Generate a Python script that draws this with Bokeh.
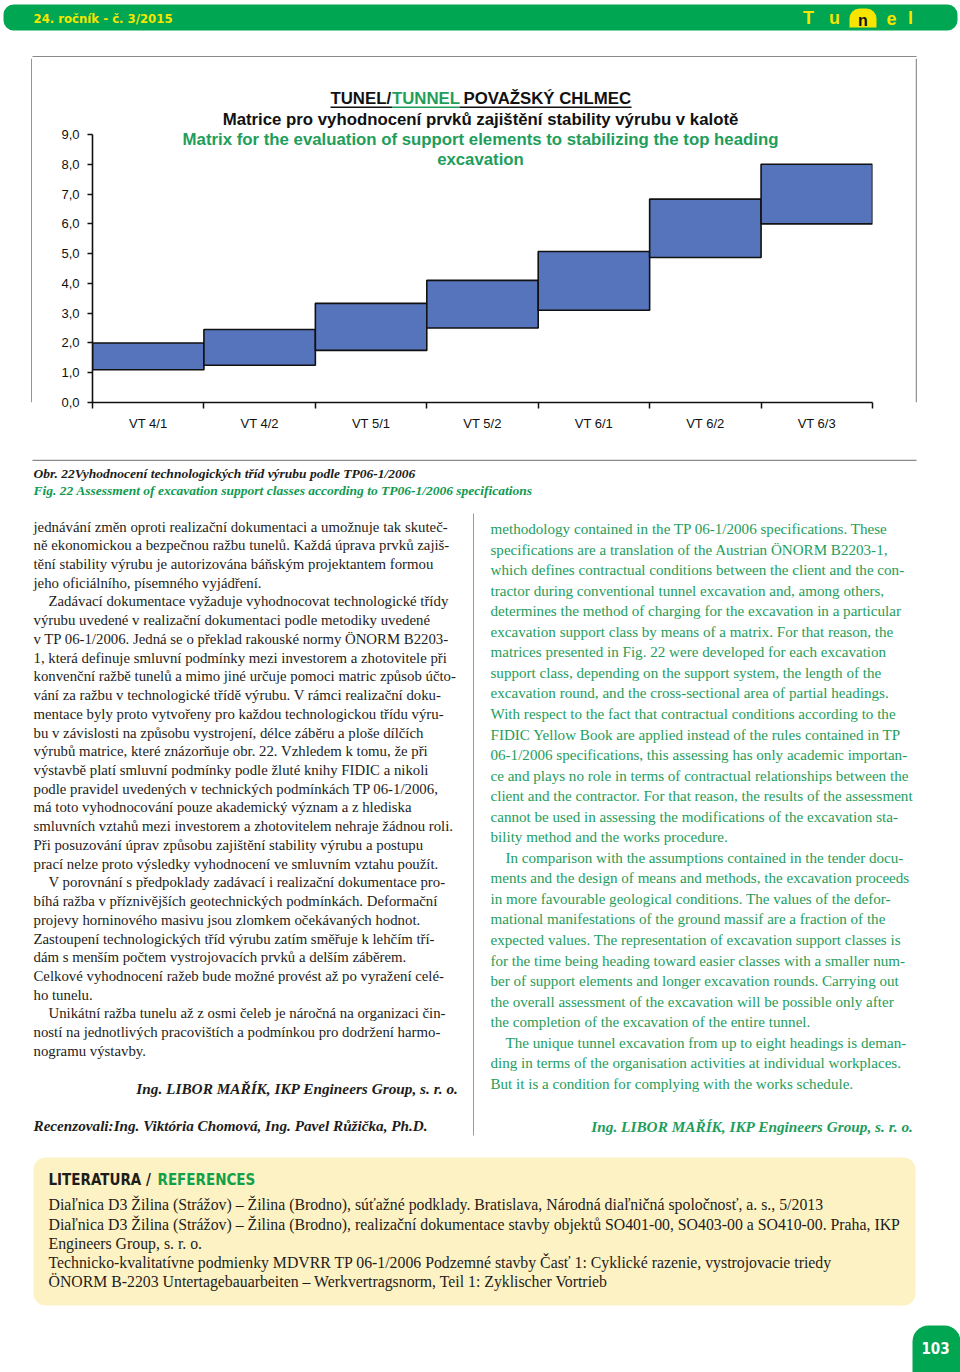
from bokeh.plotting import figure
from bokeh.models import (Range1d, FixedTicker, CustomJSTickFormatter, LinearAxis, ColumnDataSource)
from bokeh.layouts import column, row
from bokeh.core.properties import value
from bokeh.embed import file_html
from bokeh.resources import INLINE

# ---------------- data ----------------
categories = ["VT 4/1", "VT 4/2", "VT 5/1", "VT 5/2", "VT 6/1", "VT 6/2", "VT 6/3"]
low_values = [1.1, 1.25, 1.75, 2.5, 3.1, 4.87, 6.0]
high_values = [2.0, 2.45, 3.33, 4.1, 5.07, 6.83, 8.0]
y_ticks = [0, 1, 2, 3, 4, 5, 6, 7, 8, 9]
y_tick_labels = ["0,0", "1,0", "2,0", "3,0", "4,0", "5,0", "6,0", "7,0", "8,0", "9,0"]

title_line1 = ["TUNEL/", "TUNNEL", "POVAŽSKÝ CHLMEC"]
title_line2 = "Matrice pro vyhodnocení prvků zajištění stability výrubu v kalotě"
title_line3 = "Matrix for the evaluation of support elements to stabilizing the top heading"
title_line4 = "excavation"

caption_cz = "Obr. 22Vyhodnocení technologických tříd výrubu podle TP06-1/2006"
caption_en = "Fig. 22 Assessment of excavation support classes according to TP06-1/2006 specifications"

left_lines = [
    "jednávání změn oproti realizační dokumentaci a umožnuje tak skuteč-",
    "ně ekonomickou a bezpečnou ražbu tunelů. Každá úprava prvků zajiš-",
    "tění stability výrubu je autorizována báňským projektantem formou",
    "jeho oficiálního, písemného vyjádření.",
    "Zadávací dokumentace vyžaduje vyhodnocovat technologické třídy",
    "výrubu uvedené v realizační dokumentaci podle metodiky uvedené",
    "v TP 06-1/2006. Jedná se o překlad rakouské normy ÖNORM B2203-",
    "1, která definuje smluvní podmínky mezi investorem a zhotovitele při",
    "konvenční ražbě tunelů a mimo jiné určuje pomoci matric způsob účto-",
    "vání za ražbu v technologické třídě výrubu. V rámci realizační doku-",
    "mentace byly proto vytvořeny pro každou technologickou třídu výru-",
    "bu v závislosti na způsobu vystrojení, délce záběru a ploše dílčích",
    "výrubů matrice, které znázorňuje obr. 22. Vzhledem k tomu, že při",
    "výstavbě platí smluvní podmínky podle žluté knihy FIDIC a nikoli",
    "podle pravidel uvedených v technických podmínkách TP 06-1/2006,",
    "má toto vyhodnocování pouze akademický význam a z hlediska",
    "smluvních vztahů mezi investorem a zhotovitelem nehraje žádnou roli.",
    "Při posuzování úprav způsobu zajištění stability výrubu a postupu",
    "prací nelze proto výsledky vyhodnocení ve smluvním vztahu použít.",
    "V porovnání s předpoklady zadávací i realizační dokumentace pro-",
    "bíhá ražba v příznivějších geotechnických podmínkách. Deformační",
    "projevy horninového masivu jsou zlomkem očekávaných hodnot.",
    "Zastoupení technologických tříd výrubu zatím směřuje k lehčím tří-",
    "dám s menším počtem vystrojovacích prvků a delším záběrem.",
    "Celkové vyhodnocení ražeb bude možné provést až po vyražení celé-",
    "ho tunelu.",
    "Unikátní ražba tunelu až z osmi čeleb je náročná na organizaci čin-",
    "ností na jednotlivých pracovištích a podmínkou pro dodržení harmo-",
    "nogramu výstavby.",
]
left_indent = [4, 19, 26]

right_lines = [
    "methodology contained in the TP 06-1/2006 specifications. These",
    "specifications are a translation of the Austrian ÖNORM B2203-1,",
    "which defines contractual conditions between the client and the con-",
    "tractor during conventional tunnel excavation and, among others,",
    "determines the method of charging for the excavation in a particular",
    "excavation support class by means of a matrix. For that reason, the",
    "matrices presented in Fig. 22 were developed for each excavation",
    "support class, depending on the support system, the length of the",
    "excavation round, and the cross-sectional area of partial headings.",
    "With respect to the fact that contractual conditions according to the",
    "FIDIC Yellow Book are applied instead of the rules contained in TP",
    "06-1/2006 specifications, this assessing has only academic importan-",
    "ce and plays no role in terms of contractual relationships between the",
    "client and the contractor. For that reason, the results of the assessment",
    "cannot be used in assessing the modifications of the excavation sta-",
    "bility method and the works procedure.",
    "In comparison with the assumptions contained in the tender docu-",
    "ments and the design of means and methods, the excavation proceeds",
    "in more favourable geological conditions. The values of the defor-",
    "mational manifestations of the ground massif are a fraction of the",
    "expected values. The representation of excavation support classes is",
    "for the time being heading toward easier classes with a smaller num-",
    "ber of support elements and longer excavation rounds. Carrying out",
    "the overall assessment of the excavation will be possible only after",
    "the completion of the excavation of the entire tunnel.",
    "The unique tunnel excavation from up to eight headings is deman-",
    "ding in terms of the organisation activities at individual workplaces.",
    "But it is a condition for complying with the works schedule.",
]
right_indent = [16, 25]

author = "Ing. LIBOR MAŘÍK, IKP Engineers Group, s. r. o."
reviewers = "Recenzovali:Ing. Viktória Chomová, Ing. Pavel Růžička, Ph.D."

ref_title = ["LITERATURA /", "REFERENCES"]
ref_lines = [
    "Diaľnica D3 Žilina (Strážov) – Žilina (Brodno), súťažné podklady. Bratislava, Národná diaľničná spoločnosť, a. s., 5/2013",
    "Diaľnica D3 Žilina (Strážov) – Žilina (Brodno), realizační dokumentace stavby objektů SO401-00, SO403-00 a SO410-00. Praha, IKP",
    "Engineers Group, s. r. o.",
    "Technicko-kvalitatívne podmienky MDVRR TP 06-1/2006 Podzemné stavby Časť 1: Cyklické razenie, vystrojovacie triedy",
    "ÖNORM B-2203 Untertagebauarbeiten – Werkvertragsnorm, Teil 1: Zyklischer Vortrieb",
]
header_text = "24. ročník - č. 3/2015"
page_number = "103"

# ---------------- styles ----------------
GREEN_BAR = "#00a651"
YELLOW = "#f7e500"
GREEN_TXT = "#1f9d5c"
GREEN_TITLE = "#1e9e5a"
BLACK = "#1d1d1b"
BAR_FILL = "#5574bc"
BOX_GREY = "#8a8a8a"
SANS = "Liberation Sans"
SERIF = "Liberation Serif"
COND = "Liberation Sans Narrow, DejaVu Sans Condensed"

W = 960
# chart box on the page (pixels)
CH_LEFT, CH_TOP, CH_RIGHT, CH_BOTTOM = 32, 57, 915, 459
FRAME_L, FRAME_R, FRAME_T, FRAME_B = 92, 872, 58, 402


def blank(width, height, x0, x1, y_top, y_bottom):
    p = figure(width=width, height=height, x_range=Range1d(x0, x1), y_range=Range1d(y_bottom, y_top),
               output_backend="svg", toolbar_location=None, x_axis_type=None, y_axis_type=None,
               min_border=0, min_border_left=0, min_border_right=0, min_border_top=0, min_border_bottom=0)
    p.outline_line_color = None
    p.background_fill_color = "white"
    p.border_fill_color = "white"
    return p


def txt(p, x, y, s, size, color=BLACK, font=SERIF, style="normal", align="left"):
    p.text(x=[x], y=[y], text=[s], text_font=value(font), text_font_size=f"{size}px",
           text_font_style=style, text_color=color, text_align=align, text_baseline="middle")


def rquad(p, left, right, top, bottom, color, radius):
    try:
        p.quad(left=left, right=right, top=top, bottom=bottom, fill_color=color, line_color=None,
               border_radius=radius)
    except Exception:
        p.quad(left=left, right=right, top=top, bottom=bottom, fill_color=color, line_color=None)


# ---------------- header ----------------
header = blank(W, CH_TOP, 0, W, 0, CH_TOP)
rquad(header, 3, 957, 4, 30, GREEN_BAR, 10)
txt(header, 33, 17.5, header_text, 13, YELLOW, COND, "bold")
for ch, x in zip(["T", "u"], [808, 834]):
    txt(header, x, 17.5, ch, 18, YELLOW, SANS, "bold", "center")
rquad(header, 849, 876, 8, 27, YELLOW, (10, 10, 0, 0))
txt(header, 862.5, 19.5, "n", 16, "#111111", SANS, "bold", "center")
for ch, x in zip(["e", "l"], [891, 910]):
    txt(header, x, 17.5, ch, 18, YELLOW, SANS, "bold", "center")
# top edge of the chart box
header.segment(x0=[CH_LEFT], x1=[CH_RIGHT + 1], y0=[CH_TOP - 0.7], y1=[CH_TOP - 0.7],
               line_color=BOX_GREY, line_width=1.4)

# ---------------- chart ----------------
CH_W = CH_RIGHT - CH_LEFT
CH_H = CH_BOTTOM - CH_TOP
PX_PER_CAT = (FRAME_R - FRAME_L) / len(categories)
PX_PER_UNIT = (FRAME_B - 134) / 9.0
y_end = (FRAME_B - FRAME_T) / PX_PER_UNIT


def dx(px):
    return (px - FRAME_L) / PX_PER_CAT


def dy(py):
    return (FRAME_B - py) / PX_PER_UNIT


chart = figure(width=CH_W, height=CH_H, x_range=Range1d(0, len(categories)), y_range=Range1d(0, y_end),
               output_backend="svg", toolbar_location=None, x_axis_type=None, y_axis_type=None,
               min_border_left=FRAME_L - CH_LEFT, min_border_right=CH_RIGHT - FRAME_R,
               min_border_top=FRAME_T - CH_TOP, min_border_bottom=CH_BOTTOM - FRAME_B)
chart.outline_line_color = None
chart.background_fill_color = "white"
chart.border_fill_color = "white"

idx = list(range(len(categories)))
src = ColumnDataSource(dict(left=idx, right=[i + 1 for i in idx], bottom=low_values, top=high_values))
chart.quad(left="left", right="right", bottom="bottom", top="top", source=src,
           fill_color=BAR_FILL, line_color="#111111", line_width=1.6)

yaxis = LinearAxis(
    ticker=FixedTicker(ticks=y_ticks),
    formatter=CustomJSTickFormatter(args=dict(tl=y_ticks, labels=y_tick_labels),
                                    code="const i = tl.indexOf(tick); return i >= 0 ? labels[i] : '';"),
    bounds=(y_ticks[0], y_ticks[-1]))
xaxis = LinearAxis(
    ticker=FixedTicker(ticks=[i + 0.5 for i in idx], minor_ticks=idx + [len(categories)]),
    formatter=CustomJSTickFormatter(args=dict(labels=categories),
                                    code="return labels[Math.floor(tick)] || '';"))
for ax in (yaxis, xaxis):
    ax.axis_line_color = "#111111"
    ax.axis_line_width = 1.6
    ax.major_label_text_font = SANS
    ax.major_label_text_font_size = "13px"
    ax.major_label_text_color = "#111111"
    ax.minor_tick_line_color = "#111111"
    ax.major_tick_line_color = "#111111"
    ax.major_tick_line_width = 1.5
    ax.minor_tick_line_width = 1.5
yaxis.major_tick_out = 5
yaxis.major_tick_in = 0
yaxis.major_label_standoff = 8
xaxis.major_tick_out = 0
xaxis.major_tick_in = 0
xaxis.minor_tick_out = 6
xaxis.minor_tick_in = 0
xaxis.major_label_standoff = 7
chart.add_layout(yaxis, "left")
chart.add_layout(xaxis, "below")

# chart title
TS = "16.8px"
chart.text(x=[dx(330), dx(391.5), dx(463)], y=[dy(98)] * 3, text=title_line1,
           text_color=["#111111", GREEN_TITLE, "#111111"], text_font=value(SANS), text_font_size=TS,
           text_font_style="bold", text_align="left", text_baseline="middle")
chart.segment(x0=[dx(330), dx(391.5), dx(459)], x1=[dx(391.5), dx(459), dx(631)],
              y0=[dy(106.7)] * 3, y1=[dy(106.7)] * 3, line_color=["#111111", GREEN_TITLE, "#111111"],
              line_width=1.5)
chart.text(x=[dx(480)] * 3, y=[dy(118.5), dy(138.5), dy(159)], text=[title_line2, title_line3, title_line4],
           text_color=["#111111", GREEN_TITLE, GREEN_TITLE], text_font=value(SANS), text_font_size=TS,
           text_font_style="bold", text_align="center", text_baseline="middle")

# side strips carrying the left / right edges of the chart box
left_strip = blank(CH_LEFT, CH_H, 0, CH_LEFT, CH_TOP, CH_BOTTOM)
left_strip.segment(x0=[CH_LEFT - 0.7], x1=[CH_LEFT - 0.7], y0=[CH_TOP], y1=[CH_BOTTOM],
                   line_color=BOX_GREY, line_width=1.4)
right_strip = blank(W - CH_RIGHT, CH_H, CH_RIGHT, W, CH_TOP, CH_BOTTOM)
right_strip.segment(x0=[CH_RIGHT + 0.7], x1=[CH_RIGHT + 0.7], y0=[CH_TOP], y1=[CH_BOTTOM],
                    line_color=BOX_GREY, line_width=1.4)

# ---------------- body ----------------
body = blank(W, 1372 - CH_BOTTOM, 0, W, CH_BOTTOM, 1372)
body.segment(x0=[CH_LEFT], x1=[CH_RIGHT + 1], y0=[CH_BOTTOM + 0.7], y1=[CH_BOTTOM + 0.7],
             line_color=BOX_GREY, line_width=1.4)
txt(body, 33, 473, caption_cz, 13.5, BLACK, SERIF, "bold italic")
txt(body, 33, 490, caption_en, 13.5, "#0f9a52", SERIF, "bold italic")

body.segment(x0=[473], x1=[473], y0=[513], y1=[1135], line_color="#9a9a9a", line_width=1)

lx = [48 if i in left_indent else 33 for i in range(len(left_lines))]
ly = [526 + i * 18.73 for i in range(len(left_lines))]
body.text(x=lx, y=ly, text=left_lines, text_font=value(SERIF), text_font_size="14.8px",
          text_color=BLACK, text_baseline="middle", text_align="left")

rx = [505 if i in right_indent else 490 for i in range(len(right_lines))]
ry = [528.5 + i * 20.55 for i in range(len(right_lines))]
body.text(x=rx, y=ry, text=right_lines, text_font=value(SERIF), text_font_size="15.1px",
          text_color=GREEN_TXT, text_baseline="middle", text_align="left")

txt(body, 458, 1087.5, author, 15.3, BLACK, SERIF, "bold italic", "right")
txt(body, 33, 1125, reviewers, 15.2, BLACK, SERIF, "bold italic")
txt(body, 913, 1125.5, author, 15.3, GREEN_TXT, SERIF, "bold italic", "right")

# references box
rquad(body, 33, 915, 1157, 1305, "#fdf2c4", 12)
txt(body, 48, 1179.5, ref_title[0], 15, BLACK, COND, "bold")
txt(body, 157, 1179.5, ref_title[1], 15, "#12a04a", COND, "bold")
body.text(x=[48] * len(ref_lines), y=[1204.3 + i * 19.2 for i in range(len(ref_lines))], text=ref_lines,
          text_font=value(SERIF), text_font_size="15.8px", text_color=BLACK, text_baseline="middle",
          text_align="left")

# page number tab
rquad(body, 912, 960, 1325, 1372, GREEN_BAR, (16, 16, 0, 0))
txt(body, 935, 1347, page_number, 15, "white", COND, "bold", "center")

layout = column(header, row(left_strip, chart, right_strip), body)

open("out.html", "w").write(file_html(layout, INLINE))
